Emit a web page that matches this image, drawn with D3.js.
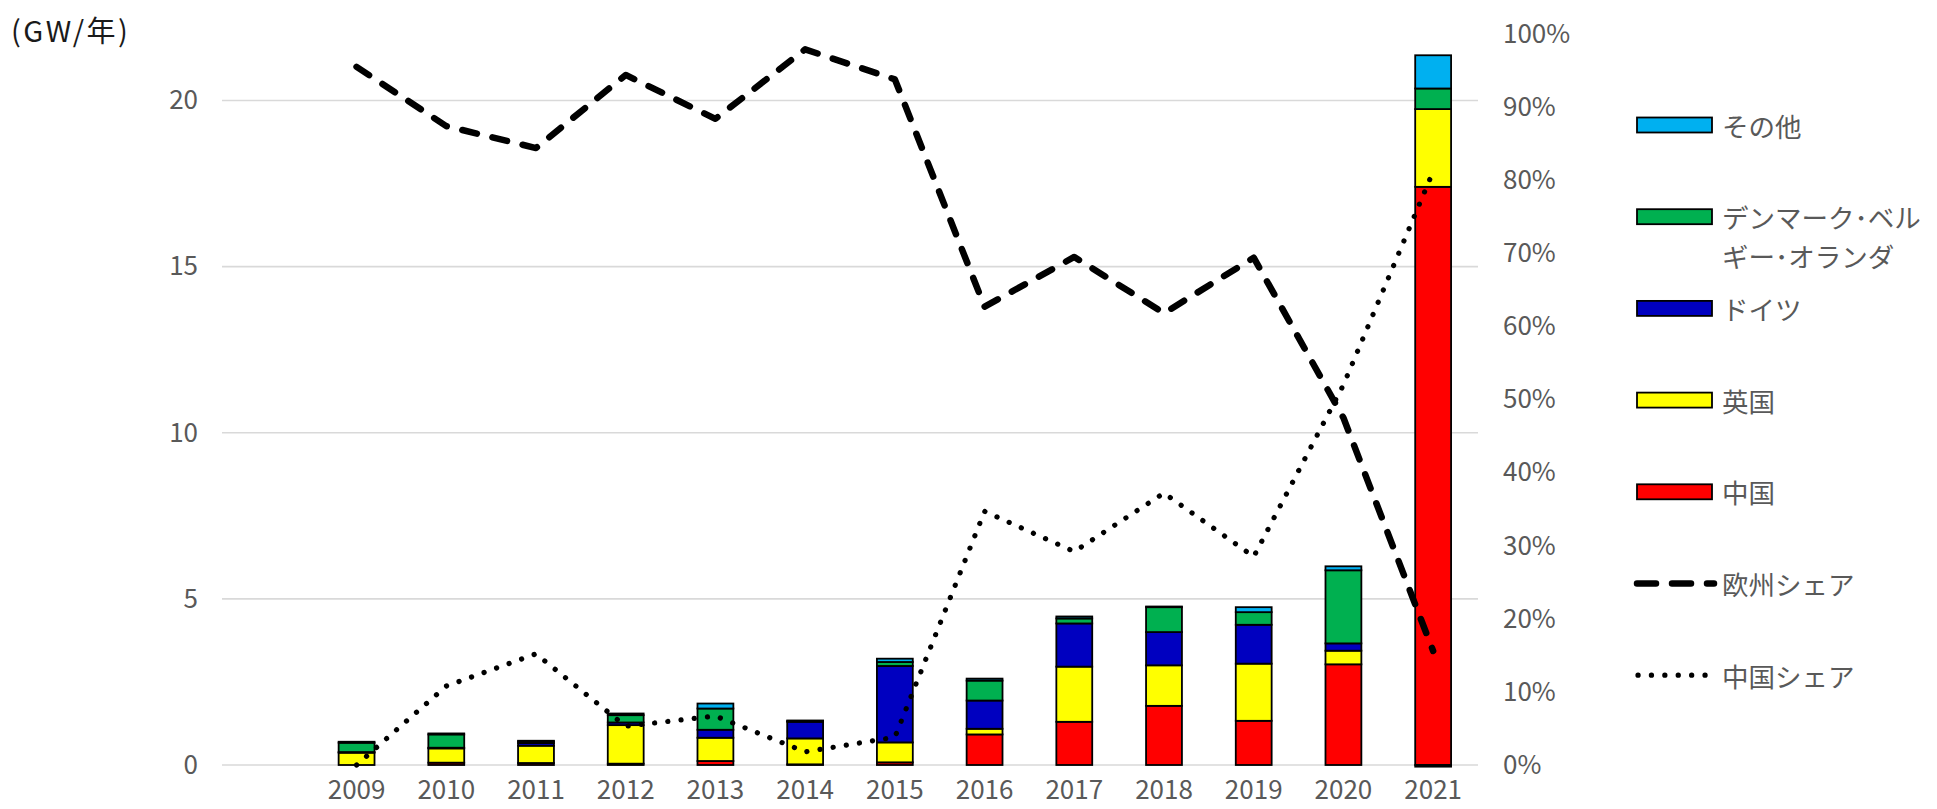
<!DOCTYPE html>
<html>
<head>
<meta charset="utf-8">
<script src="https://cdn.jsdelivr.net/npm/d3@7"></script>
<style>
  body { margin: 0; background: #fff; }
  svg { display: block; font-family: "Noto Sans CJK JP", "Noto Sans", sans-serif; }
</style>
</head>
<body>
<div class="chart"></div>
<script>
const width = 1937;
const height = 809;

// DATA //
const years = ["2009","2010","2011","2012","2013","2014","2015","2016","2017","2018","2019","2020","2021"];
// GW per year, by country
const china   = [0, 0.07, 0.06, 0.04, 0.12, 0.02, 0.08, 0.92, 1.30, 1.78, 1.33, 3.03, 17.40];
const uk      = [0.37, 0.43, 0.52, 1.16, 0.70, 0.78, 0.60, 0.17, 1.66, 1.22, 1.72, 0.41, 2.34];
const germany = [0.02, 0.02, 0.08, 0.08, 0.24, 0.50, 2.30, 0.85, 1.30, 1.00, 1.17, 0.22, -0.05];
const dbn     = [0.28, 0.40, 0.05, 0.22, 0.64, 0.02, 0.12, 0.60, 0.15, 0.75, 0.38, 2.20, 0.62];
const others  = [0.03, 0.03, 0.02, 0.05, 0.15, 0.02, 0.10, 0.06, 0.06, 0.02, 0.15, 0.12, 1.00];
// shares (right axis)
const euShare    = [0.955, 0.874, 0.844, 0.944, 0.884, 0.979, 0.938, 0.627, 0.695, 0.618, 0.694, 0.475, 0.156];
const chinaShare = [0.000, 0.108, 0.152, 0.053, 0.067, 0.018, 0.038, 0.347, 0.292, 0.372, 0.285, 0.520, 0.812];

const leftTicks = [0, 5, 10, 15, 20];
const rightTicks = [0, 0.1, 0.2, 0.3, 0.4, 0.5, 0.6, 0.7, 0.8, 0.9, 1.0];

const seriesKeys = ["china", "uk", "germany", "dbn", "others"];
const colors = {china: "#FF0000", uk: "#FFFF00", germany: "#0000C0", dbn: "#00B050", others: "#00B0F0"};

// table for d3.stack
const table = years.map((y, i) => ({
    year: y, china: china[i], uk: uk[i], germany: germany[i], dbn: dbn[i], others: others[i]
}));

// SVG //
const svg = d3.select(".chart")
    .append("svg")
    .attr("width", width)
    .attr("height", height)
    .attr("viewBox", [0, 0, width, height]);

const plot = {left: 222, right: 1478, top: 34, bottom: 765};

// leading empty slot on the category axis
const x = d3.scaleBand()
    .domain(["", ...years])
    .range([plot.left, plot.right])
    .paddingInner(0.6)
    .paddingOuter(0.3);

const y = d3.scaleLinear().domain([0, 22]).range([plot.bottom, plot.top]);
const y2 = d3.scaleLinear().domain([0, 1]).range([plot.bottom, plot.top]);

// gridlines
svg.append("g")
    .selectAll("line")
    .data(leftTicks)
    .join("line")
    .attr("x1", plot.left)
    .attr("x2", plot.right)
    .attr("y1", d => y(d))
    .attr("y2", d => y(d))
    .attr("stroke", "#D9D9D9")
    .attr("stroke-width", 1.6);

// left axis
const leftAxis = svg.append("g")
    .attr("transform", `translate(${plot.left - 24},0)`)
    .call(d3.axisLeft(y).tickValues(leftTicks).tickSize(0).tickPadding(0));
leftAxis.select(".domain").remove();
leftAxis.selectAll("text")
    .attr("fill", "#595959")
    .style("font-size", "26px")
    .style("font-family", "'Noto Sans CJK JP', sans-serif");

// right axis
const rightAxis = svg.append("g")
    .attr("transform", `translate(${plot.right + 25},0)`)
    .call(d3.axisRight(y2).tickValues(rightTicks).tickFormat(d3.format(".0%")).tickSize(0).tickPadding(0));
rightAxis.select(".domain").remove();
rightAxis.selectAll("text")
    .attr("fill", "#595959")
    .style("font-size", "26px")
    .style("font-family", "'Noto Sans CJK JP', sans-serif");

// bottom axis (labels sit right at the bottom edge, as in the original)
const bottomAxis = svg.append("g")
    .attr("transform", `translate(0,${plot.bottom})`)
    .call(d3.axisBottom(x).tickSize(0).tickPadding(0));
bottomAxis.select(".domain").remove();
bottomAxis.selectAll("text")
    .attr("fill", "#595959")
    .attr("y", 34)
    .attr("dy", 0)
    .style("font-size", "26px")
    .style("font-family", "'Noto Sans CJK JP', sans-serif");

// unit label
svg.append("text")
    .attr("x", 11)
    .attr("y", 29)
    .attr("dominant-baseline", "central")
    .attr("fill", "#1a1a1a")
    .style("font-size", "29px")
    .style("letter-spacing", "2.5px")
    .text("(GW/年)");

// STACKED BARS //
const stacked = d3.stack().keys(seriesKeys).offset(d3.stackOffsetDiverging)(table);

svg.append("g")
    .selectAll("g")
    .data(stacked)
    .join("g")
    .attr("fill", d => colors[d.key])
    .selectAll("rect")
    .data(d => d)
    .join("rect")
    .attr("x", d => x(d.data.year))
    .attr("width", x.bandwidth())
    .attr("y", d => y(Math.max(d[0], d[1])))
    .attr("height", d => Math.abs(y(d[0]) - y(d[1])))
    .attr("stroke", "#000")
    .attr("stroke-width", 1.8);

// SHARE LINES //
const line = d3.line()
    .x((d, i) => x(years[i]) + x.bandwidth() / 2)
    .y(d => y2(d));

svg.append("path")
    .datum(euShare)
    .attr("d", line)
    .attr("fill", "none")
    .attr("stroke", "#000")
    .attr("stroke-width", 6.5)
    .attr("stroke-linecap", "round")
    .attr("stroke-linejoin", "round")
    .attr("stroke-dasharray", "15 16");

svg.append("path")
    .datum(chinaShare)
    .attr("d", line)
    .attr("fill", "none")
    .attr("stroke", "#000")
    .attr("stroke-width", 5.2)
    .attr("stroke-linecap", "round")
    .attr("stroke-dasharray", "0.1 13.2");

// LEGEND //
const legendBars = [
    {key: "others", lines: ["その他"]},
    {key: "dbn", lines: ["デンマーク･ベル", "ギー･オランダ"]},
    {key: "germany", lines: ["ドイツ"]},
    {key: "uk", lines: ["英国"]},
    {key: "china", lines: ["中国"]}
];
const legendY0 = 125;
const legendStep = 91.7;

const lg = svg.append("g");
legendBars.forEach((item, i) => {
    const cy = legendY0 + i * legendStep;
    lg.append("rect")
        .attr("x", 1637)
        .attr("y", cy - 7.5)
        .attr("width", 75)
        .attr("height", 15)
        .attr("fill", colors[item.key])
        .attr("stroke", "#000")
        .attr("stroke-width", 1.8);
    item.lines.forEach((t, j) => {
        lg.append("text")
            .attr("x", 1722)
            .attr("y", cy + j * 38.5)
            .attr("dominant-baseline", "central")
            .attr("fill", "#595959")
            .style("font-size", "26.5px")
            .text(t);
    });
});

// line legend entries
const euY = legendY0 + 5 * legendStep;
const cnY = legendY0 + 6 * legendStep;
lg.append("line")
    .attr("x1", 1637).attr("x2", 1714)
    .attr("y1", euY).attr("y2", euY)
    .attr("stroke", "#000")
    .attr("stroke-width", 6.5)
    .attr("stroke-linecap", "round")
    .attr("stroke-dasharray", "19 16");
lg.append("text")
    .attr("x", 1722)
    .attr("y", euY)
    .attr("dominant-baseline", "central")
    .attr("fill", "#595959")
    .style("font-size", "26.5px")
    .text("欧州シェア");

lg.append("line")
    .attr("x1", 1638).attr("x2", 1706)
    .attr("y1", cnY).attr("y2", cnY)
    .attr("stroke", "#000")
    .attr("stroke-width", 5.2)
    .attr("stroke-linecap", "round")
    .attr("stroke-dasharray", "0.1 13.3");
lg.append("text")
    .attr("x", 1722)
    .attr("y", cnY)
    .attr("dominant-baseline", "central")
    .attr("fill", "#595959")
    .style("font-size", "26.5px")
    .text("中国シェア");
</script>
</body>
</html>
